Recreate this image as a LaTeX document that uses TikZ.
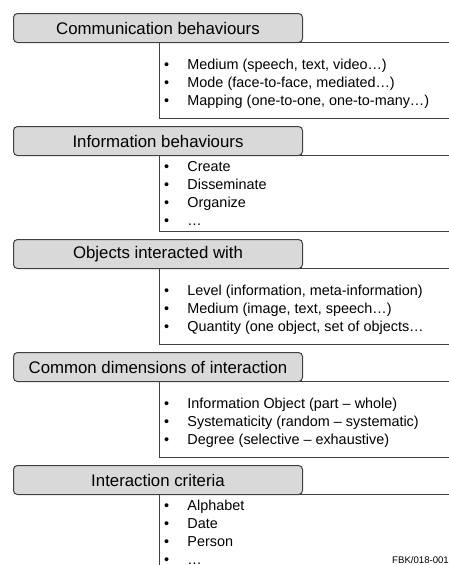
\documentclass[tikz,border=0pt]{standalone}
\usepackage{fontspec}
\setmainfont{Liberation Sans}
\usetikzlibrary{positioning}
\definecolor{headfill}{RGB}{217,217,217}
\definecolor{edge}{RGB}{64,64,64}

\begin{document}
\begin{tikzpicture}[x=1pt, y=-1pt,
  head/.style={draw=edge, line width=1pt, rounded corners=4pt, fill=headfill,
              minimum width=289pt, minimum height=29pt, inner sep=0pt,
              anchor=north west, font=\fontsize{16.8}{20}\selectfont},
  panel/.style={draw=edge, line width=1pt, fill=white, minimum width=293pt,
              minimum height=76pt, inner sep=0pt, anchor=north west},
  item/.style={inner sep=0pt, anchor=base west, font=\fontsize{14.4}{18}\selectfont},
  note/.style={inner sep=0pt, anchor=base east, font=\fontsize{9.6}{11}\selectfont}]
\useasboundingbox (0,0) rectangle (448,565);
% #1 name, #2 top of header, #3 title, #4 first baseline, #5 items
\def\block#1#2#3#4#5{%
  \node[panel] (p#1) at (159,{#2+29}) {};
  \node[head]  (h#1) at (13,#2) {#3};
  \foreach \t [count=\k] in {#5}
    \node[item] (i#1-\k) at (164,{#4+(\k-1)*18}) {\makebox[23.3pt][l]{\textbullet}\t};}
\block{1}{13}{Communication behaviours}{69}
  {{Medium (speech, text, video…)},{Mode (face-to-face, mediated…)},{Mapping (one-to-one, one-to-many…)}}
\block{2}{126}{Information behaviours}{171}
  {Create,Disseminate,Organize,…}
\block{3}{239}{Objects interacted with}{295}
  {{Level (information, meta-information)},{Medium (image, text, speech…)},{Quantity (one object, set of objects…}}
\block{4}{352}{Common dimensions of interaction}{408}
  {{Information Object (part – whole)},{Systematicity (random – systematic)},{Degree (selective – exhaustive)}}
\block{5}{465}{Interaction criteria}{510}
  {Alphabet,Date,Person,…}
\node[note] (ref) at (449,563) {FBK/018-001};
\end{tikzpicture}
\end{document}
